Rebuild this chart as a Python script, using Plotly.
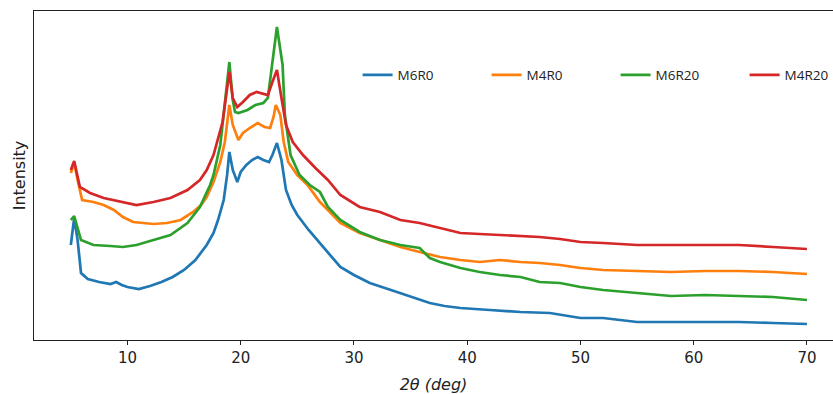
import plotly.graph_objects as go

# 2theta positions (deg) and intensities (arbitrary units)
x_m6r0 = [5.0, 5.3, 5.6, 5.9, 6.5, 7.5, 8.5, 9.0, 9.5, 10, 11, 12, 13, 14, 15, 16, 17, 17.6, 18.0, 18.5, 18.8,
          19.0, 19.3, 19.7, 20.0, 20.5, 21.0, 21.5, 22.0, 22.5, 22.8, 23.2, 23.6, 24.0, 24.5, 25.0, 26.0, 27.0,
          28.0, 28.8, 30, 31.4, 33, 34.1, 35.5, 36.7, 38, 39.4, 42, 44.7, 47.3, 49.1, 50, 52, 55, 58, 61, 64, 67, 70]
y_m6r0 = [95, 122, 100, 67, 61, 58, 56, 58, 55, 53, 51, 54, 58, 63, 70, 80, 95, 107, 120, 140, 165,
          188, 170, 158, 168, 175, 180, 183, 180, 178, 185, 197, 180, 150, 135, 125, 110, 97,
          83, 73, 65, 57, 51, 47, 42, 37, 34, 32, 30, 28, 27, 24, 22, 22, 18, 18, 18, 18, 17, 16]

x_m4r0 = [5.0, 5.3, 5.6, 6.0, 7.0, 7.9, 8.8, 9.6, 10.5, 11.4, 12.3, 13.5, 14.7, 15.8, 16.5, 17.0, 17.6, 18.2,
          18.6, 19.0, 19.3, 19.8, 20.2, 20.8, 21.5, 22.1, 22.6, 22.9, 23.1, 23.5, 23.8, 24.2, 25.0, 25.9, 27.0,
          27.7, 28.8, 30.5, 32.3, 34.1, 35.8, 37.6, 39.4, 41.1, 42.9, 44.7, 46.4, 48.2, 50, 52, 55, 58, 61, 64, 67, 70]
y_m4r0 = [167, 177, 160, 140, 138, 135, 130, 123, 118, 117, 116, 117, 120, 128, 135, 143, 158, 178,
          198, 235, 215, 200, 207, 212, 217, 213, 212, 223, 235, 225, 198, 178, 165, 155, 138,
          130, 117, 107, 100, 93, 88, 83, 80, 78, 80, 78, 77, 75, 72, 70, 69, 68, 69, 69, 68, 66]

x_m6r20 = [5.0, 5.3, 5.9, 7.0, 8.5, 9.6, 10.8, 12.3, 13.8, 15.3, 16.4, 17.3, 17.6, 18.2, 18.6, 19.0, 19.3,
           19.5, 19.8, 20.6, 21.3, 22.0, 22.4, 22.8, 23.2, 23.7, 23.9, 24.4, 25.2, 26.1, 27.0, 27.7, 28.8,
           30.5, 32.3, 34.1, 35.8, 36.7, 37.6, 39.4, 41.1, 42.9, 44.7, 46.4, 48.2, 50, 52, 55, 58, 61, 64, 67, 70]
y_m6r20 = [120, 124, 100, 95, 94, 93, 95, 100, 105, 117, 133, 155, 165, 195, 238, 278, 240,
           228, 227, 230, 235, 237, 242, 275, 313, 275, 225, 185, 165, 155, 148, 133, 120,
           108, 100, 95, 92, 82, 78, 72, 68, 65, 63, 58, 57, 53, 50, 47, 44, 45, 44, 43, 40]

x_m4r20 = [5.0, 5.3, 5.8, 6.7, 7.9, 9.4, 10.8, 12.3, 13.8, 15.3, 16.4, 17.0, 17.6, 18.4, 19.0, 19.3, 19.7,
           20.2, 20.8, 21.4, 22.0, 22.4, 22.8, 23.2, 23.6, 24.0, 24.6, 25.5, 26.6, 27.7, 28.8, 30.5, 32.3,
           34.1, 35.8, 37.6, 39.4, 41.1, 42.9, 44.7, 46.4, 48.2, 50, 52, 55, 58, 61, 64, 67, 70]
y_m4r20 = [170, 179, 153, 147, 142, 138, 135, 138, 142, 150, 160, 170, 185, 218, 268, 242, 233,
           238, 245, 248, 246, 245, 258, 270, 242, 215, 198, 185, 172, 160, 145, 133, 128,
           120, 117, 112, 107, 106, 105, 104, 103, 101, 98, 97, 95, 95, 95, 95, 93, 91]

series_names = ["M6R0", "M4R0", "M6R20", "M4R20"]
series_colors = ["#1f77b4", "#ff7f0e", "#2ca02c", "#d62728"]
xs = [x_m6r0, x_m4r0, x_m6r20, x_m4r20]
ys = [y_m6r0, y_m4r0, y_m6r20, y_m4r20]
x_ticks = [10, 20, 30, 40, 50, 60, 70]

fig = go.Figure()
for name, color, xv, yv in zip(series_names, series_colors, xs, ys):
    fig.add_trace(go.Scatter(x=xv, y=yv, mode="lines", name=name,
                             line=dict(color=color, width=2.7)))

fig.update_layout(
    width=833, height=394,
    margin=dict(l=34, r=0, t=11, b=54, autoexpand=False),
    plot_bgcolor="white", paper_bgcolor="white",
    showlegend=True,
    legend=dict(orientation="h", x=0.405, y=0.805, xanchor="left", yanchor="middle",
                font=dict(family="Open Sans", size=13.5, color="#222"),
                entrywidth=84, entrywidthmode="pixels",
                bgcolor="rgba(0,0,0,0)"),
    xaxis=dict(range=[1.75, 72.3], tickvals=x_ticks, ticks="outside", ticklen=4,
               tickcolor="#222", showline=True, linecolor="#222", linewidth=1.3, mirror=True,
               showgrid=False, zeroline=False,
               tickfont=dict(family="DejaVu Sans", size=15, color="#222"),
               title=dict(text="<i>2θ (deg)</i>", standoff=12,
                          font=dict(family="DejaVu Sans", size=16, color="#222"))),
    yaxis=dict(range=[0, 329], showticklabels=False, ticks="", showline=True,
               linecolor="#222", linewidth=1.3, showgrid=False, zeroline=False,
               title=dict(text="Intensity", standoff=3,
                          font=dict(family="DejaVu Sans", size=16, color="#222"))),
)

fig.write_html("out.html", config={"displayModeBar": False},
               post_script="document.body.style.margin='0';document.body.style.overflow='hidden';")
